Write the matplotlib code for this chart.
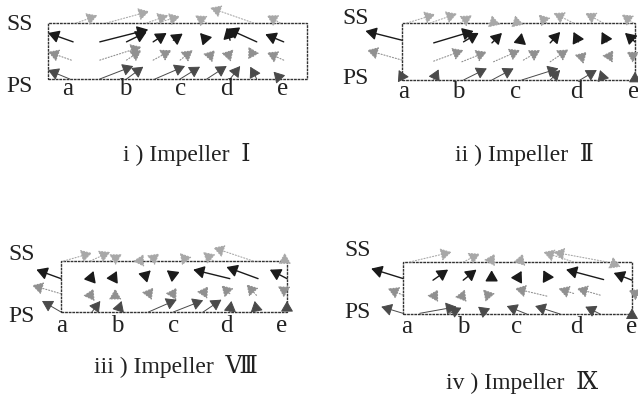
import matplotlib
matplotlib.use("Agg")
import matplotlib.pyplot as plt
from matplotlib.patches import FancyArrowPatch, Rectangle

# station labels along each passage
stations = ['a', 'b', 'c', 'd', 'e']
titles = ['i ) Impeller  \u2160', 'ii ) Impeller  \u2161',
          'iii ) Impeller  \u2167', 'iv ) Impeller  \u2168']

# station positions (fraction of passage width)
p1_ticks = [0.077, 0.297, 0.51, 0.69, 0.905]
p2_ticks = [0.007, 0.243, 0.486, 0.75, 0.993]
p3_ticks = [0.004, 0.247, 0.497, 0.732, 0.975]
p4_ticks = [0.018, 0.263, 0.496, 0.759, 1.0]

# vectors (x0, y0, x1, y1); y = 0 at PS, y = 1 at SS
# panel i
p1_top = [(0.110, 1.0, 0.191, 1.136), (0.226, 1.0, 0.391, 1.207),
          (0.381, 1.0, 0.465, 1.136), (0.419, 1.0, 0.510, 1.118),
          (0.613, 1.0, 0.568, 1.136), (0.794, 1.0, 0.626, 1.272),
          (0.897, 1.0, 0.845, 1.136)]
p1_high = [(0.097, 0.663, 0.0, 0.822), (0.2, 0.663, 0.387, 0.882),
           (0.303, 0.663, 0.381, 0.840), (0.406, 0.663, 0.458, 0.822),
           (0.484, 0.692, 0.52, 0.811), (0.606, 0.722, 0.587, 0.822),
           (0.703, 0.692, 0.690, 0.917), (0.806, 0.663, 0.693, 0.899),
           (0.910, 0.663, 0.839, 0.799)]
p1_mid = [(0.090, 0.337, 0.0, 0.485), (0.2, 0.337, 0.361, 0.574),
          (0.303, 0.337, 0.361, 0.515), (0.406, 0.337, 0.477, 0.515),
          (0.510, 0.337, 0.559, 0.515), (0.619, 0.385, 0.645, 0.515),
          (0.690, 0.396, 0.716, 0.527), (0.794, 0.408, 0.774, 0.574),
          (0.910, 0.337, 0.845, 0.473)]
p1_low = [(0.084, 0.0, 0.0, 0.160), (0.2, 0.0, 0.329, 0.231),
          (0.303, 0.0, 0.368, 0.219), (0.413, 0.0, 0.529, 0.231),
          (0.510, 0.0, 0.587, 0.219), (0.613, 0.0, 0.690, 0.231),
          (0.703, 0.0, 0.742, 0.231), (0.806, 0.0, 0.781, 0.219),
          (0.897, 0.0, 0.871, 0.130)]

# panel ii
p2_top = [(0.021, 1.0, 0.143, 1.151), (0.121, 1.0, 0.236, 1.163),
          (0.25, 1.0, 0.3, 1.134), (0.393, 1.0, 0.386, 1.134),
          (0.493, 1.0, 0.486, 1.134), (0.621, 1.0, 0.586, 1.151),
          (0.736, 1.0, 0.65, 1.174), (0.864, 1.0, 0.786, 1.174),
          (0.993, 1.0, 0.943, 1.151)]
p2_high = [(0.0, 0.698, -0.157, 0.860), (0.136, 0.651, 0.307, 0.860),
           (0.264, 0.669, 0.329, 0.826), (0.386, 0.651, 0.429, 0.826),
           (0.507, 0.669, 0.514, 0.826), (0.636, 0.651, 0.679, 0.843),
           (0.757, 0.669, 0.736, 0.843), (0.879, 0.669, 0.857, 0.843),
           (1.0, 0.669, 0.957, 0.826)]
p2_mid = [(0.0, 0.349, -0.15, 0.523), (0.136, 0.331, 0.264, 0.523),
          (0.257, 0.32, 0.364, 0.494), (0.393, 0.32, 0.507, 0.523),
          (0.521, 0.349, 0.593, 0.523), (0.636, 0.32, 0.714, 0.535),
          (0.764, 0.378, 0.793, 0.494), (0.893, 0.436, 0.907, 0.523),
          (1.0, 0.407, 0.964, 0.494)]
p2_low = [(0.0, 0.058, -0.014, 0.174), (0.136, 0.0, 0.157, 0.186),
          (0.264, 0.0, 0.364, 0.203), (0.386, 0.0, 0.479, 0.203),
          (0.514, 0.0, 0.671, 0.203), (0.636, 0.0, 0.679, 0.174),
          (0.764, 0.0, 0.836, 0.174), (0.864, 0.0, 0.850, 0.174),
          (1.0, 0.087, 1.0, 0.145)]

# panel iii
p3_top = [(0.012, 1.0, 0.137, 1.157), (0.129, 1.0, 0.218, 1.176),
          (0.218, 1.0, 0.269, 1.131), (0.35, 1.0, 0.365, 1.131),
          (0.394, 1.0, 0.435, 1.145), (0.556, 1.0, 0.526, 1.157),
          (0.674, 1.0, 0.629, 1.176), (0.85, 1.0, 0.674, 1.261),
          (0.99, 1.0, 0.99, 1.157)]
p3_high = [(0.0, 0.654, -0.109, 0.830), (0.137, 0.719, 0.144, 0.804),
           (0.24, 0.739, 0.247, 0.804), (0.379, 0.739, 0.397, 0.817),
           (0.497, 0.719, 0.468, 0.817), (0.747, 0.654, 0.585, 0.830),
           (0.872, 0.654, 0.732, 0.882), (1.0, 0.654, 0.924, 0.830)]
p3_mid = [(0.0, 0.359, -0.128, 0.523), (0.137, 0.392, 0.144, 0.458),
          (0.24, 0.392, 0.24, 0.458), (0.394, 0.392, 0.409, 0.477),
          (0.497, 0.373, 0.512, 0.477), (0.629, 0.359, 0.651, 0.503),
          (0.747, 0.359, 0.71, 0.523), (0.865, 0.327, 0.821, 0.542),
          (1.0, 0.392, 0.96, 0.503)]
p3_low = [(0.0, 0.0, -0.084, 0.216), (0.137, 0.0, 0.174, 0.216),
          (0.254, 0.033, 0.268, 0.216), (0.387, 0.0, 0.512, 0.242),
          (0.497, 0.0, 0.629, 0.229), (0.629, 0.0, 0.71, 0.242),
          (0.747, 0.0, 0.754, 0.216), (0.865, 0.033, 0.857, 0.216),
          (1.0, 0.033, 1.0, 0.216)]

# panel iv
p4_top = [(0.029, 1.0, 0.212, 1.191), (0.263, 1.0, 0.336, 1.159),
          (0.38, 1.0, 0.401, 1.159), (0.511, 1.0, 0.523, 1.159),
          (0.745, 1.0, 0.613, 1.191), (0.891, 1.0, 0.657, 1.191),
          (0.92, 1.0, 0.917, 1.096)]
p4_high = [(0.0, 0.682, -0.139, 0.873), (0.131, 0.65, 0.197, 0.854),
           (0.263, 0.65, 0.321, 0.854), (0.387, 0.713, 0.387, 0.841),
           (0.504, 0.713, 0.518, 0.828), (0.628, 0.713, 0.613, 0.841),
           (0.876, 0.662, 0.712, 0.854), (1.0, 0.65, 0.92, 0.79)]
p4_mid = [(0.0, 0.363, -0.066, 0.49), (0.139, 0.363, 0.153, 0.471),
          (0.263, 0.395, 0.27, 0.471), (0.365, 0.395, 0.35, 0.471),
          (0.628, 0.344, 0.489, 0.49), (0.745, 0.395, 0.679, 0.49),
          (0.861, 0.363, 0.759, 0.49), (1.0, 0.427, 0.985, 0.459)]
p4_low = [(0.0, 0.013, -0.095, 0.14), (0.073, 0.013, 0.234, 0.14),
          (0.204, 0.013, 0.255, 0.121), (0.365, 0.013, 0.328, 0.14),
          (0.54, 0.0, 0.453, 0.153), (0.686, 0.0, 0.577, 0.153),
          (0.861, 0.0, 0.796, 0.14), (1.0, 0.045, 1.0, 0.108)]

# layout in pixels: passage box (l, t, r, b), SS / PS label spots,
# station label row, title centre
panels = [
    dict(box=(48, 23, 307, 79), ss=(20, 25), ps=(20, 86), lab_y=89,
         ticks=p1_ticks, vec=[p1_top, p1_high, p1_mid, p1_low],
         title_xy=(187, 155)),
    dict(box=(402, 23, 635, 80), ss=(356, 18), ps=(356, 78), lab_y=92,
         ticks=p2_ticks, vec=[p2_top, p2_high, p2_mid, p2_low],
         title_xy=(524, 155)),
    dict(box=(61, 261, 287, 312), ss=(22, 255), ps=(22, 317), lab_y=326,
         ticks=p3_ticks, vec=[p3_top, p3_high, p3_mid, p3_low],
         title_xy=(176, 367)),
    dict(box=(403, 262, 632, 314), ss=(358, 251), ps=(358, 312), lab_y=327,
         ticks=p4_ticks, vec=[p4_top, p4_high, p4_mid, p4_low],
         title_xy=(522, 383)),
]

# line look for each vector group: colour, linestyle, width
styles = [('#a8a8a8', ':', 0.8), ('#1a1a1a', '-', 1.0),
          ('#909090', ':', 0.8), ('#4a4a4a', '-', 0.7)]

W, H = 638, 401
fig = plt.figure(figsize=(W / 100, H / 100), dpi=100)
fig.patch.set_facecolor('white')

serif = ['Liberation Serif', 'DejaVu Serif', 'Noto Sans CJK JP']


def px(x, y):
    return x / W, 1 - y / H


for p in panels:
    l, t, r, b = p['box']
    ax = fig.add_axes([l / W, 1 - b / H, (r - l) / W, (b - t) / H])
    ax.set_xlim(0, 1)
    ax.set_ylim(0, 1)
    ax.axis('off')
    ax.add_patch(Rectangle((0, 0), 1, 1, fill=False, ec='#333333',
                           lw=1.0, ls=(0, (2, 0.6)), clip_on=False))
    for group, (col, ls, lw) in zip(p['vec'], styles):
        for x0, y0, x1, y1 in group:
            arr = FancyArrowPatch((x0, y0), (x1, y1),
                                  arrowstyle='-|>,head_length=0.6,head_width=0.35',
                                  mutation_scale=11, color=col, lw=lw,
                                  linestyle=ls, shrinkA=0, shrinkB=0,
                                  clip_on=False)
            ax.add_patch(arr)
    ly = 1 - p['lab_y'] / H
    for xt, s in zip(p['ticks'], stations):
        fig.text((l + xt * (r - l)) / W, ly, s, ha='center', va='center',
                 fontsize=18, family=serif, color='#222222')
    fig.text(*px(*p['ss']), 'SS', ha='center', va='center', fontsize=17,
             family=serif, color='#222222')
    fig.text(*px(*p['ps']), 'PS', ha='center', va='center', fontsize=17,
             family=serif, color='#222222')

for p, title in zip(panels, titles):
    fig.text(*px(*p['title_xy']), title, ha='center', va='center',
             fontsize=17, family=serif, color='#222222')

fig.savefig('out.png', dpi=100)
